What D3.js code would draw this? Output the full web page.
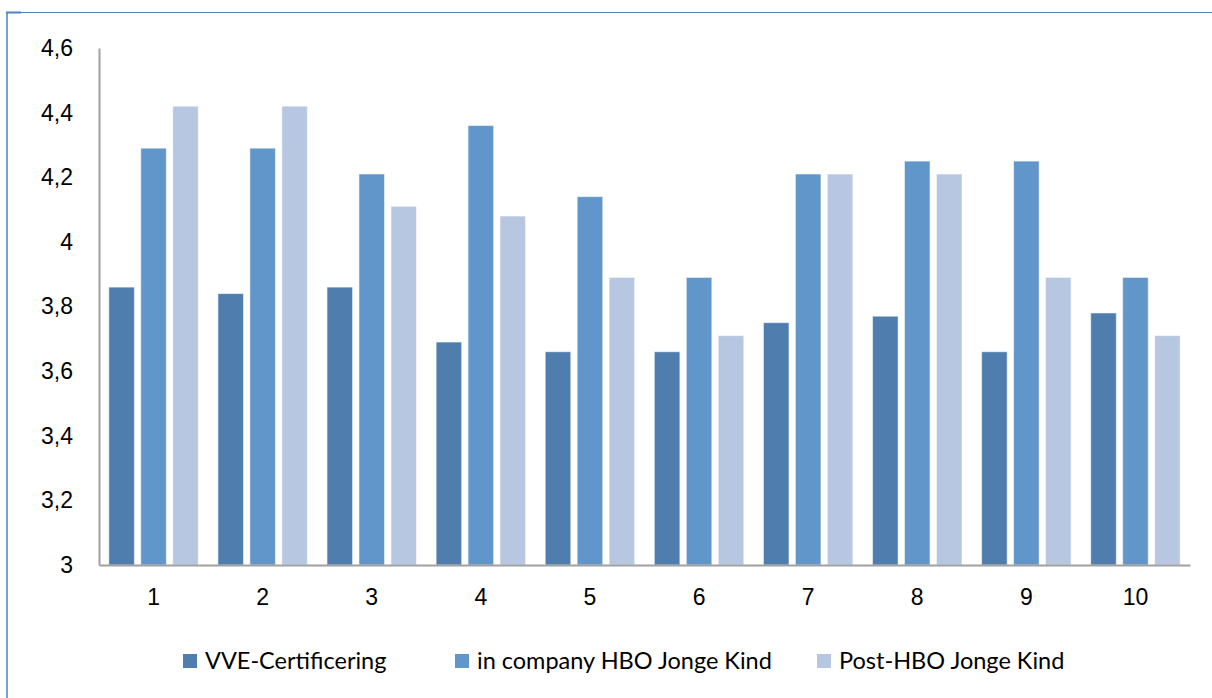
<!DOCTYPE html>
<html>
<head>
<meta charset="utf-8">
<script src="https://cdn.jsdelivr.net/npm/d3@7"></script>
<style>
  html, body { margin: 0; padding: 0; background: #fff; }
  svg { display: block; font-family: Lato, "Open Sans", sans-serif; }
</style>
</head>
<body>
<svg id="chart" width="1212" height="698"></svg>
<script>
// Item numbers along the x axis
const categories = ["1", "2", "3", "4", "5", "6", "7", "8", "9", "10"];
const seriesNames = ["VVE-Certificering", "in company HBO Jonge Kind", "Post-HBO Jonge Kind"];
const vveValues = [3.86, 3.84, 3.86, 3.69, 3.66, 3.66, 3.75, 3.77, 3.66, 3.78];
const inCompanyValues = [4.29, 4.29, 4.21, 4.36, 4.14, 3.89, 4.21, 4.25, 4.25, 3.89];
const postHboValues = [4.42, 4.42, 4.11, 4.08, 3.89, 3.71, 4.21, 4.21, 3.89, 3.71];
const yTicks = [3, 3.2, 3.4, 3.6, 3.8, 4, 4.2, 4.4, 4.6];
const colors = ["#4F7DAE", "#6096C9", "#B8C7E1"];

const seriesValues = [vveValues, inCompanyValues, postHboValues];
const rows = categories.map((c, i) => ({
  cat: c,
  vals: seriesValues.map((s, k) => ({ key: k, value: s[i] }))
}));

const svg = d3.select("#chart");
const margin = { left: 99, right: 22, top: 48, bottom: 133 };
const W = 1212, H = 698;

// Partial frame around the chart
svg.append("line").attr("x1", 6.5).attr("x2", W).attr("y1", 12.5).attr("y2", 12.5)
  .attr("stroke", "#4F81BD").attr("stroke-width", 1.2);
svg.append("line").attr("x1", 7).attr("x2", 7).attr("y1", 12).attr("y2", H)
  .attr("stroke", "#4F81BD").attr("stroke-width", 1.5);
svg.append("line").attr("x1", 6).attr("x2", 21).attr("y1", 12.5).attr("y2", 12.5)
  .attr("stroke", "#4F81BD").attr("stroke-width", 2);

const x0 = d3.scaleBand().domain(categories)
  .range([margin.left, W - margin.right]).paddingInner(0.18).paddingOuter(0.09);
const x1 = d3.scaleBand().domain([0, 1, 2]).range([0, x0.bandwidth()]).paddingInner(0.2);
const y = d3.scaleLinear().domain([3, 4.6]).range([H - margin.bottom, margin.top]);

const fmt = d => d3.format("~g")(d).replace(".", ",");

// Bars
const groups = svg.append("g").selectAll("g").data(rows).join("g")
  .attr("transform", d => `translate(${x0(d.cat)},0)`);
groups.selectAll("rect").data(d => d.vals).join("rect")
  .attr("x", d => x1(d.key))
  .attr("width", x1.bandwidth())
  .attr("y", d => y(d.value))
  .attr("height", d => y(3) - y(d.value))
  .attr("fill", d => colors[d.key])
  .attr("stroke", "rgba(255,255,255,0.55)")
  .attr("stroke-width", 1);

// Y axis
const yAxis = svg.append("g").attr("transform", `translate(${margin.left},0)`)
  .call(d3.axisLeft(y).tickValues(yTicks).tickFormat(fmt).tickSize(0).tickPadding(26));
yAxis.select(".domain").attr("stroke", "#a0a0a0").attr("stroke-width", 2);
yAxis.selectAll("text").attr("font-size", 23).attr("fill", "#000");

// X axis
const xAxis = svg.append("g").attr("transform", `translate(0,${y(3)})`)
  .call(d3.axisBottom(x0.copy().paddingInner(0).paddingOuter(0)).tickSize(0).tickPadding(24));
xAxis.select(".domain").attr("stroke", "#a0a0a0").attr("stroke-width", 2);
xAxis.selectAll("text").attr("font-size", 23).attr("fill", "#000");

// Legend
const legendX = [183, 455, 817];
const legend = svg.append("g").selectAll("g").data(seriesNames).join("g")
  .attr("transform", (d, i) => `translate(${legendX[i]},654)`);
legend.append("rect").attr("width", 14).attr("height", 14).attr("fill", (d, i) => colors[i]);
legend.append("text").attr("x", 22).attr("y", 7).attr("dy", "0.36em")
  .attr("font-size", 23.5).attr("fill", "#000").text(d => d);
</script>
</body>
</html>
